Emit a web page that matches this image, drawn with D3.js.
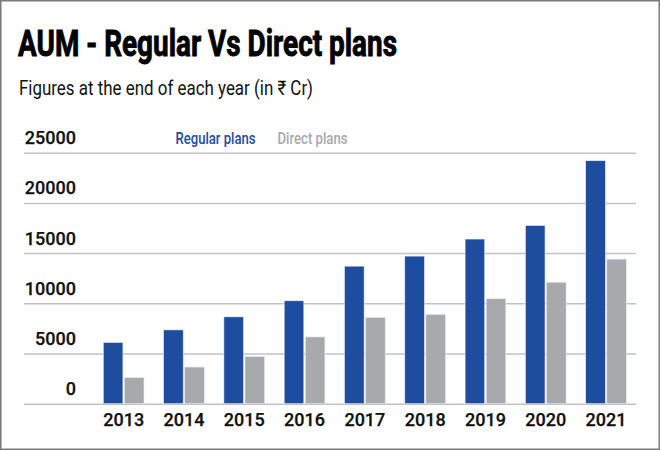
<!DOCTYPE html>
<html>
<head>
<meta charset="utf-8">
<script src="https://cdn.jsdelivr.net/npm/d3@7"></script>
<style>
  body { margin: 0; background: #fff; }
  svg { display: block; font-family: Roboto, "Liberation Sans", sans-serif; }
</style>
</head>
<body>
<div id="chart"></div>
<script>
// values (Rs crore, end of year)
var years = ["2013", "2014", "2015", "2016", "2017", "2018", "2019", "2020", "2021"];
var regular = [6100, 7350, 8650, 10250, 13700, 14700, 16400, 17750, 24200];
var direct = [2600, 3650, 4700, 6650, 8600, 8900, 10450, 12100, 14400];
var series = ["Regular plans", "Direct plans"];
var colors = ["#1e4c9f", "#a8a9ac"];
var yTicks = [0, 5000, 10000, 15000, 20000, 25000];

var width = 660, height = 450;

var svg = d3.select("#chart").append("svg")
    .attr("width", width)
    .attr("height", height);

// frame
svg.append("rect")
    .attr("x", 0.75).attr("y", 0.75)
    .attr("width", width - 1.5).attr("height", height - 1.5)
    .attr("fill", "#fff")
    .attr("stroke", "#7a7a7a")
    .attr("stroke-width", 1.5);

// title + subtitle (squeezed to look like the condensed face)
svg.append("text")
    .attr("x", 18).attr("y", 55.5)
    .attr("font-size", 36)
    .attr("font-weight", 700)
    .attr("fill", "#000")
    .attr("stroke", "#000")
    .attr("stroke-width", 0.9)
    .attr("textLength", 379)
    .attr("lengthAdjust", "spacingAndGlyphs")
    .text("AUM - Regular Vs Direct plans");

svg.append("text")
    .attr("x", 19).attr("y", 94.5)
    .attr("font-size", 20)
    .attr("fill", "#111")
    .attr("textLength", 294)
    .attr("lengthAdjust", "spacingAndGlyphs")
    .text("Figures at the end of each year (in \u20B9 Cr)");

// scales
var y = d3.scaleLinear().domain([0, 25000]).range([403.7, 152.7]);

var x0 = d3.scaleBand()
    .domain(years)
    .range([93.5, 636.2])
    .paddingInner(0.325)
    .paddingOuter(0.1625);

var x1 = d3.scaleBand()
    .domain(series)
    .range([0, x0.bandwidth()])
    .paddingInner(0.07);

// gridlines + y labels
var yAxis = svg.append("g")
    .attr("transform", "translate(636,0)")
    .call(d3.axisLeft(y).tickValues(yTicks).tickSize(612).tickFormat(d3.format("d")));
yAxis.select(".domain").remove();
yAxis.selectAll(".tick line")
    .attr("stroke", "#c2c2c2")
    .attr("stroke-width", 1.5);
yAxis.selectAll(".tick text")
    .attr("x", -560)
    .attr("y", -9)
    .attr("dy", 0)
    .attr("font-size", 18)
    .attr("font-weight", 500)
    .attr("font-family", "Roboto, sans-serif")
    .attr("fill", "#111")
    .attr("stroke", "#111")
    .attr("stroke-width", 0.25);

// bars
var rows = years.map(function(yr, i) {
  return {year: yr, values: [regular[i], direct[i]]};
});

var groups = svg.selectAll(".year")
    .data(rows)
  .enter().append("g")
    .attr("class", "year")
    .attr("transform", function(d) { return "translate(" + x0(d.year) + ",0)"; });

groups.selectAll("rect")
    .data(function(d) { return d.values.map(function(v, j) { return {key: series[j], value: v, c: colors[j]}; }); })
  .enter().append("rect")
    .attr("x", function(d) { return x1(d.key); })
    .attr("y", function(d) { return y(d.value); })
    .attr("width", x1.bandwidth())
    .attr("height", function(d) { return y(0) - y(d.value); })
    .attr("fill", function(d) { return d.c; })
    .attr("stroke", "#e6ebf3")
    .attr("stroke-width", 0.6);

// year labels
var xAxis = svg.append("g")
    .attr("transform", "translate(0," + y(0) + ")")
    .call(d3.axisBottom(x0).tickSize(0));
xAxis.select(".domain").remove();
xAxis.selectAll(".tick text")
    .attr("y", 22.5)
    .attr("dy", 0)
    .attr("font-size", 18)
    .attr("font-weight", 500)
    .attr("font-family", "Roboto, sans-serif")
    .attr("fill", "#111")
    .attr("stroke", "#111")
    .attr("stroke-width", 0.25);

// legend
var legendX = [175.5, 277.5];
var legendW = [80, 70];
svg.selectAll(".legend")
    .data(series)
  .enter().append("text")
    .attr("class", "legend")
    .attr("x", function(d, i) { return legendX[i]; })
    .attr("y", 144)
    .attr("font-size", 16.5)
    .attr("font-weight", 500)
    .attr("fill", function(d, i) { return colors[i]; })
    .attr("textLength", function(d, i) { return legendW[i]; })
    .attr("lengthAdjust", "spacingAndGlyphs")
    .text(function(d) { return d; });
</script>
</body>
</html>
